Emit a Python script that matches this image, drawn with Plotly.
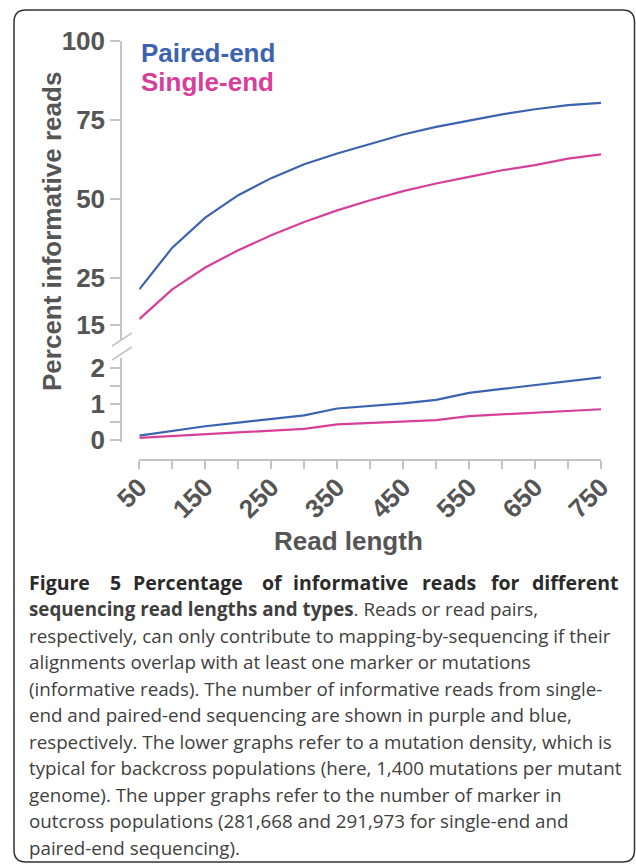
import plotly.graph_objects as go

# ---------------- data ----------------
read_length = [50, 100, 150, 200, 250, 300, 350, 400, 450, 500, 550, 600, 650, 700, 750]
# upper panel (outcross markers)
paired_upper = [21.4, 34.6, 44.1, 51.2, 56.6, 61.0, 64.4, 67.5, 70.4, 72.8, 74.9, 76.8, 78.4, 79.7, 80.4]
single_upper = [12.0, 21.4, 28.3, 33.8, 38.5, 42.7, 46.4, 49.6, 52.5, 54.9, 57.0, 59.1, 60.7, 62.8, 64.1]
# lower panel (backcross mutations)
paired_lower = [0.12, 0.25, 0.38, 0.48, 0.58, 0.68, 0.87, 0.94, 1.01, 1.11, 1.30, 1.41, 1.52, 1.63, 1.73]
single_lower = [0.06, 0.11, 0.16, 0.20, 0.25, 0.31, 0.43, 0.47, 0.51, 0.55, 0.66, 0.71, 0.77, 0.82, 0.85]

x_tickvals = list(range(50, 751, 50))
x_ticktext = [str(v) if (v - 50) % 100 == 0 else "" for v in x_tickvals]
upper_tickvals = [10, 25, 50, 75, 100]
upper_ticktext = ["15", "25", "50", "75", "100"]
lower_tickvals = [0, 0.5, 1, 1.5, 2]
lower_ticktext = ["0", "", "1", "", "2"]

series_names = ["Paired-end", "Single-end"]
caption_words_line1 = ["Figure", "5", "Percentage", "of", "informative", "reads", "for", "different"]
caption_lines = [
    "<b>sequencing read lengths and types</b>. Reads or read pairs,",
    "respectively, can only contribute to mapping-by-sequencing if their",
    "alignments overlap with at least one marker or mutations",
    "(informative reads). The number of informative reads from single-",
    "end and paired-end sequencing are shown in purple and blue,",
    "respectively. The lower graphs refer to a mutation density, which is",
    "typical for backcross populations (here, 1,400 mutations per mutant",
    "genome). The upper graphs refer to the number of marker in",
    "outcross populations (281,668 and 291,973 for single-end and",
    "paired-end sequencing).",
]

# ---------------- layout helpers ----------------
W, H = 636, 866
ML, MT = 121, 41
MR = W - 601
MB = H - 460
PW, PH = W - ML - MR, H - MT - MB


def px(x):  # x in page pixels -> paper
    return (x - ML) / PW


def py(y):  # y in page pixels -> paper
    return (H - MB - y) / PH


BLUE = "#3b63b0"
PINK = "#d6409b"
AXIS = "#c4c4c4"
TXT = "#555555"
FONT = "Liberation Sans"

fig = go.Figure()
for yv, yax in [(paired_upper, "y"), (paired_lower, "y2")]:
    fig.add_trace(go.Scatter(x=read_length, y=yv, mode="lines", yaxis=yax,
                             line=dict(color=BLUE, width=2.2), name=series_names[0],
                             showlegend=False))
for yv, yax in [(single_upper, "y"), (single_lower, "y2")]:
    fig.add_trace(go.Scatter(x=read_length, y=yv, mode="lines", yaxis=yax,
                             line=dict(color=PINK, width=2.2), name=series_names[1],
                             showlegend=False))

tickfont = dict(family=FONT, size=26, color=TXT, weight="bold")
common_axis = dict(showline=True, linecolor=AXIS, linewidth=1.5, ticks="outside",
                   tickcolor=AXIS, tickwidth=1.5, showgrid=False, zeroline=False,
                   tickfont=tickfont, anchor="free", position=0)

fig.update_layout(
    width=W, height=H,
    margin=dict(l=ML, r=MR, t=MT, b=MB, pad=0),
    paper_bgcolor="white", plot_bgcolor="white",
    xaxis=dict(domain=[px(139.3), 1], range=[50, 750], tickvals=x_tickvals,
               ticktext=x_ticktext, tickangle=-45, ticklen=8, ticklabelstandoff=-7,
               **common_axis),
    yaxis=dict(domain=[py(341), 1], range=[5.06, 100], tickvals=upper_tickvals,
               ticktext=upper_ticktext, ticklen=10, **common_axis),
    yaxis2=dict(domain=[py(441.7), py(358)], range=[-0.047, 2.265], tickvals=lower_tickvals,
                ticktext=lower_ticktext, ticklen=10, **common_axis),
    showlegend=False,
)

ann = []
ann.append(dict(text=series_names[0], x=px(139), y=py(53), xanchor="left", yanchor="middle",
                font=dict(family=FONT, size=26, color=BLUE, weight="bold")))
ann.append(dict(text=series_names[1], x=px(139), y=py(82), xanchor="left", yanchor="middle",
                font=dict(family=FONT, size=26, color=PINK, weight="bold")))
ann.append(dict(text="Percent informative reads", x=px(52), y=py(232), textangle=-90,
                xanchor="center", yanchor="middle",
                font=dict(family=FONT, size=26, color=TXT, weight="bold")))
ann.append(dict(text="Read length", x=px(348), y=py(541), xanchor="center", yanchor="middle",
                font=dict(family=FONT, size=26, color=TXT, weight="bold")))

# caption
CAP_FONT = "Open Sans"
CAP_SIZE = 18.75
SH = -2.5  # annotation inner padding correction
word_x = [30.4, 111.5, 134.6, 263.6, 294, 423.8, 492.7, 533.2]
for w, xw in zip(caption_words_line1, word_x):
    ann.append(dict(text="<b>" + w + "</b>", x=px(xw + SH), y=py(582), xanchor="left",
                    yanchor="middle", borderpad=0,
                    font=dict(family=CAP_FONT, size=19.5, color="#2a2a2a")))
line_y = [608.5, 635, 661.5, 688, 714.5, 741, 767.5, 794, 820.5, 847]
for t, yl in zip(caption_lines, line_y):
    ann.append(dict(text=t, x=px(30.4 + SH), y=py(yl), xanchor="left", yanchor="middle",
                    borderpad=0, font=dict(family=CAP_FONT, size=CAP_SIZE, color="#404040")))

for a in ann:
    a.update(xref="paper", yref="paper", showarrow=False)
fig.update_layout(annotations=ann)

# axis-break marks and rounded frame
shapes = []
for (x0, y0, x1, y1) in [(112, 346, 132, 333), (112, 360, 132, 347)]:
    shapes.append(dict(type="line", xref="paper", yref="paper",
                       x0=px(x0), y0=py(y0), x1=px(x1), y1=py(y1),
                       line=dict(color=AXIS, width=1.5)))

L, T, R, B, r = 14, 10, 634.5, 862, 12
path = (f"M {px(L + r)} {py(T)} L {px(R - r)} {py(T)} "
        f"Q {px(R)} {py(T)} {px(R)} {py(T + r)} "
        f"L {px(R)} {py(B - r)} Q {px(R)} {py(B)} {px(R - r)} {py(B)} "
        f"L {px(L + r)} {py(B)} Q {px(L)} {py(B)} {px(L)} {py(B - r)} "
        f"L {px(L)} {py(T + r)} Q {px(L)} {py(T)} {px(L + r)} {py(T)} Z")
shapes.append(dict(type="path", xref="paper", yref="paper", path=path,
                   line=dict(color="#333333", width=1.5)))
fig.update_layout(shapes=shapes)

fig.write_html("out.html", config={"displayModeBar": False},
               post_script="document.body.style.margin='0';document.body.style.overflow='hidden';")
